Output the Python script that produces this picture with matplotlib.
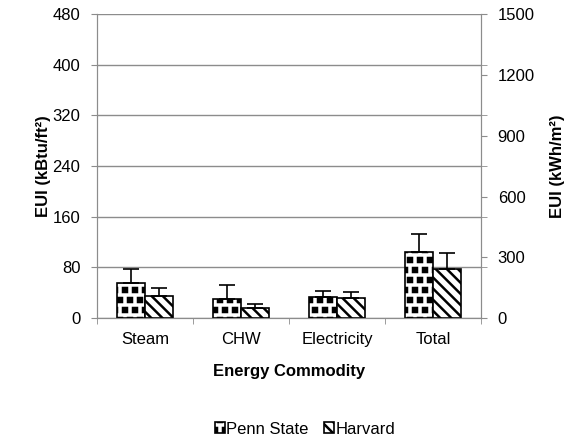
import matplotlib
matplotlib.use('Agg')
import matplotlib.pyplot as plt
import matplotlib.hatch as mhatch
from matplotlib.path import Path
import numpy as np

plt.rcParams['font.family'] = ['Liberation Sans', 'DejaVu Sans']
plt.rcParams['hatch.linewidth'] = 1.8

# EUI by energy commodity (kBtu/ft2), mean and upper error
commodities = ['Steam', 'CHW', 'Electricity', 'Total']
penn_state = [56, 30, 33, 104]
penn_state_err = [21, 23, 10, 29]
harvard = [35, 16, 32, 78]
harvard_err = [13, 7, 9, 25]


# square "confetti" for the '.' hatch instead of small round dots
class SquareDots(mhatch.Shapes):
    size = 0.2
    filled = True

    def __init__(self, hatch, density):
        self.num_rows = hatch.count('.') * 5
        self.shape_vertices = np.array([[-1, -1], [1, -1], [1, 1], [-1, 1], [-1, -1]], float)
        self.shape_codes = np.array([Path.MOVETO, Path.LINETO, Path.LINETO,
                                     Path.LINETO, Path.CLOSEPOLY], dtype=Path.code_type)
        super().__init__(hatch, density)


mhatch._hatch_types[mhatch._hatch_types.index(mhatch.SmallFilledCircles)] = SquareDots

x = np.arange(len(commodities))
w = 0.29
grey = '#8c8c8c'

fig = plt.figure(figsize=(5.81, 4.40), dpi=100)
ax = fig.add_axes([0.167, 0.277, 0.661, 0.691])

ax.bar(x - w / 2, penn_state, w, color='white', edgecolor='black', linewidth=1.2,
       hatch='..', label='Penn State', zorder=3)
ax.bar(x + w / 2, harvard, w, color='white', edgecolor='black', linewidth=1.2,
       hatch='\\\\\\', label='Harvard', zorder=3)
ax.errorbar(x - w / 2, penn_state, yerr=[np.zeros(4), penn_state_err], fmt='none',
            ecolor='black', elinewidth=1.2, capsize=6, capthick=1.2, zorder=4)
ax.errorbar(x + w / 2, harvard, yerr=[np.zeros(4), harvard_err], fmt='none',
            ecolor='black', elinewidth=1.2, capsize=6, capthick=1.2, zorder=4)

ax.set_xlim(-0.5, 3.5)
ax.set_ylim(0, 480)
ax.set_yticks(np.arange(0, 481, 80))
ax.yaxis.grid(True, color=grey, linewidth=1)
ax.set_axisbelow(True)
ax.set_xticks(x)
ax.set_xticklabels(commodities)
ax.set_xticks(np.arange(-0.5, 4, 1), minor=True)
ax.tick_params(axis='x', which='major', length=0, labelsize=12, pad=10)
ax.tick_params(axis='x', which='minor', length=4, color=grey)
ax.tick_params(axis='y', length=4, color=grey, labelsize=12, pad=8)
for s in ax.spines.values():
    s.set_color(grey)
ax.spines['top'].set_visible(False)
ax.set_xlabel('Energy Commodity', fontsize=12, fontweight='bold', labelpad=12)
ax.set_ylabel('EUI (kBtu/ft²)', fontsize=12, fontweight='bold', labelpad=1)

# secondary axis in SI units
ax2 = ax.twinx()
ax2.set_ylim(0, 1500)
ax2.set_yticks(np.arange(0, 1501, 300))
ax2.set_yticks(np.arange(0, 1501, 250), minor=True)
ax2.tick_params(axis='y', which='both', length=4, color=grey, labelsize=12, pad=8)
for s in ax2.spines.values():
    s.set_color(grey)
ax2.spines['top'].set_visible(False)
ax2.set_ylabel('EUI (kWh/m²)', fontsize=12, fontweight='bold', labelpad=11)

fig.legend(loc='center', bbox_to_anchor=(0.525, 0.025), ncol=2, frameon=False,
           fontsize=12, handlelength=0.6, handleheight=0.6, handletextpad=0.1,
           columnspacing=0.9)

fig.savefig('out.png', dpi=100)
